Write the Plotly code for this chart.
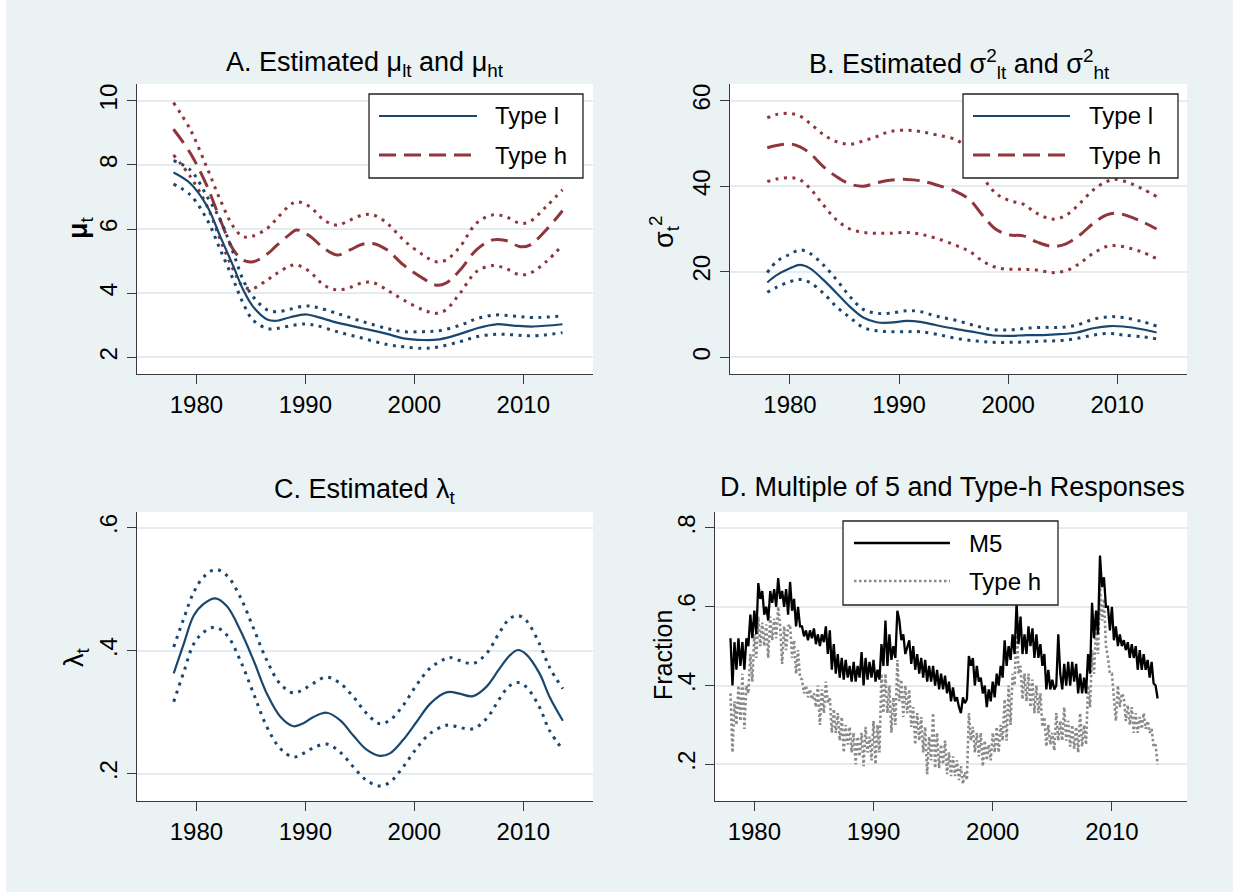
import plotly.graph_objects as go

# ---------------- data ----------------
# Panel A: estimated mu
yrs_a_l = [1977.9, 1979.45, 1981.0, 1982.2, 1983.4, 1984.3, 1985.2, 1986.5, 1987.4, 1988.6, 1990.0, 1991.0,
           1992.9, 1995.3, 1997.5, 1999.0, 2000.8, 2002.3, 2004.2, 2005.7, 2007.5, 2009.1, 2010.9, 2013.6]
mu_l = [7.76, 7.42, 6.70, 5.76, 4.83, 4.10, 3.58, 3.18, 3.14, 3.25, 3.34, 3.27,
        3.08, 2.90, 2.73, 2.59, 2.54, 2.56, 2.73, 2.90, 3.03, 2.99, 2.96, 3.03]
mu_l_hi = [8.13, 7.84, 7.00, 6.28, 5.24, 4.41, 3.89, 3.48, 3.42, 3.50, 3.60, 3.56,
           3.37, 3.11, 2.90, 2.80, 2.80, 2.83, 3.00, 3.20, 3.32, 3.29, 3.24, 3.29]
mu_l_lo = [7.40, 7.06, 6.28, 5.35, 4.41, 3.68, 3.16, 2.90, 2.90, 2.98, 3.04, 2.99,
           2.80, 2.59, 2.40, 2.33, 2.28, 2.33, 2.49, 2.64, 2.72, 2.70, 2.67, 2.77]
yrs_a_h = [1977.9, 1979.45, 1981.0, 1982.2, 1983.4, 1984.3, 1985.2, 1986.5, 1987.4, 1988.6, 1989.2, 1990.4,
           1991.7, 1992.9, 1994.1, 1995.3, 1996.2, 1997.5, 1999.0, 2000.8, 2002.0, 2002.9, 2004.2, 2005.7,
           2007.2, 2008.4, 2009.7, 2010.6, 2012.1, 2013.6]
mu_h = [9.11, 8.36, 7.32, 6.28, 5.35, 5.03, 4.98, 5.22, 5.50, 5.84, 5.97, 5.78,
        5.40, 5.19, 5.35, 5.53, 5.55, 5.35, 4.88, 4.46, 4.25, 4.31, 4.72, 5.35,
        5.66, 5.64, 5.45, 5.50, 5.97, 6.57]
mu_h_hi = [9.94, 9.09, 7.89, 6.90, 6.07, 5.76, 5.78, 6.02, 6.33, 6.75, 6.85, 6.70,
           6.28, 6.12, 6.28, 6.44, 6.44, 6.18, 5.66, 5.19, 4.98, 5.03, 5.45, 6.18,
           6.44, 6.38, 6.18, 6.23, 6.70, 7.22]
mu_h_lo = [8.31, 7.63, 6.70, 5.66, 4.72, 4.20, 4.15, 4.41, 4.62, 4.85, 4.88, 4.67,
           4.25, 4.10, 4.18, 4.33, 4.33, 4.10, 3.79, 3.48, 3.37, 3.48, 4.00, 4.67,
           4.86, 4.77, 4.57, 4.62, 4.98, 5.50]

# Panel B: estimated sigma^2
yrs_b_l = [1977.92, 1978.78, 1980.0, 1980.92, 1981.83, 1983.06, 1984.28, 1985.5, 1986.72, 1987.94, 1989.17,
           1990.69, 1991.92, 1993.44, 1995.28, 1997.11, 1998.64, 2000.17, 2001.69, 2003.22, 2004.75, 2006.28,
           2007.8, 2009.33, 2010.55, 2012.39, 2013.61]
sig_l = [17.5, 19.2, 20.8, 21.6, 20.8, 18.1, 15.0, 11.8, 9.3, 8.2, 8.1, 8.5, 8.3, 7.5, 6.6, 5.8, 5.1, 5.0,
         5.2, 5.2, 5.4, 5.8, 6.8, 7.3, 7.2, 6.5, 5.8]
sig_l_hi = [19.8, 22.4, 24.1, 25.1, 24.3, 21.6, 18.1, 14.2, 11.2, 10.3, 10.3, 10.9, 10.7, 9.6, 8.6, 7.3, 6.5,
            6.4, 6.8, 7.0, 7.0, 7.5, 8.9, 9.5, 9.3, 8.3, 7.3]
sig_l_lo = [15.2, 16.4, 17.7, 18.2, 17.5, 15.0, 11.8, 9.3, 7.0, 6.2, 6.0, 6.0, 6.0, 5.4, 4.4, 3.8, 3.5, 3.5,
            3.6, 3.8, 3.9, 4.4, 5.2, 5.6, 5.2, 4.8, 4.3]
yrs_b_h = [1977.92, 1978.78, 1980.0, 1980.92, 1981.83, 1983.06, 1984.28, 1985.5, 1986.72, 1987.94, 1989.17,
           1990.69, 1991.92, 1993.44, 1995.28, 1996.5, 1997.72, 1998.94, 2000.17, 2001.39, 2002.61, 2004.14,
           2005.36, 2006.58, 2007.8, 2009.03, 2009.94, 2011.16, 2012.39, 2013.61]
sig_h = [49.0, 49.5, 49.9, 49.2, 47.7, 44.6, 42.2, 40.5, 40.0, 40.8, 41.4, 41.6, 41.3, 40.3, 38.7, 36.8,
         33.0, 29.8, 28.6, 28.4, 27.0, 25.9, 26.6, 28.6, 31.3, 33.3, 33.7, 32.9, 31.6, 30.0]
sig_h_hi = [56.0, 56.8, 57.0, 56.4, 54.7, 52.1, 50.4, 49.8, 50.6, 51.6, 52.8, 53.1, 52.8, 52.0, 50.8, 48.1,
            42.0, 38.2, 36.6, 35.8, 33.7, 32.3, 33.3, 36.0, 39.1, 41.1, 41.6, 40.7, 39.3, 37.6]
sig_h_lo = [41.1, 41.7, 42.0, 41.5, 39.5, 35.6, 32.1, 30.0, 29.2, 29.0, 29.0, 29.2, 28.8, 27.8, 26.1, 24.7,
            22.4, 21.0, 20.6, 20.6, 20.4, 19.8, 20.3, 22.0, 24.3, 25.9, 26.1, 25.5, 24.5, 23.1]

# Panel C: estimated lambda
yrs_c = [1977.92, 1978.84, 1979.76, 1980.67, 1981.74, 1982.81, 1984.03, 1985.25, 1986.47, 1987.69, 1988.91,
         1989.83, 1990.74, 1991.96, 1993.18, 1994.4, 1995.62, 1996.84, 1997.76, 1998.98, 2000.2, 2001.42,
         2002.64, 2003.25, 2004.17, 2005.39, 2006.61, 2007.83, 2008.75, 2009.51, 2010.27, 2011.49, 2012.41,
         2013.63]
lam = [0.363, 0.411, 0.457, 0.476, 0.485, 0.472, 0.433, 0.384, 0.330, 0.293, 0.277, 0.282, 0.292, 0.299,
       0.287, 0.262, 0.239, 0.229, 0.233, 0.255, 0.284, 0.313, 0.330, 0.333, 0.330, 0.326, 0.341, 0.371,
       0.392, 0.401, 0.394, 0.363, 0.325, 0.286]
lam_hi = [0.406, 0.452, 0.495, 0.520, 0.532, 0.522, 0.487, 0.436, 0.384, 0.346, 0.331, 0.337, 0.347, 0.357,
          0.347, 0.325, 0.298, 0.281, 0.287, 0.311, 0.344, 0.371, 0.385, 0.389, 0.384, 0.379, 0.395, 0.430,
          0.452, 0.457, 0.449, 0.411, 0.373, 0.338]
lam_lo = [0.317, 0.365, 0.411, 0.430, 0.438, 0.425, 0.384, 0.330, 0.276, 0.241, 0.227, 0.233, 0.242, 0.248,
          0.235, 0.211, 0.189, 0.180, 0.186, 0.211, 0.241, 0.265, 0.277, 0.279, 0.275, 0.273, 0.289, 0.322,
          0.343, 0.348, 0.341, 0.308, 0.270, 0.239]

# Panel D: fraction of multiple-of-5 and type-h responses (six readings per year, 1978-2013)
d_start_year = 1978
d_per_year = 6
m5 = [
    0.52, 0.40, 0.51, 0.44, 0.52, 0.45,   # 1978
    0.51, 0.44, 0.52, 0.50, 0.58, 0.52,   # 1979
    0.59, 0.53, 0.66, 0.62, 0.64, 0.58,   # 1980
    0.60, 0.565, 0.64, 0.61, 0.645, 0.60, # 1981
    0.673, 0.62, 0.64, 0.60, 0.645, 0.58, # 1982
    0.663, 0.59, 0.62, 0.55, 0.60, 0.55,  # 1983
    0.55, 0.525, 0.54, 0.515, 0.54, 0.52, # 1984
    0.545, 0.505, 0.53, 0.50, 0.53, 0.51, # 1985
    0.55, 0.48, 0.54, 0.44, 0.505, 0.43,  # 1986
    0.48, 0.42, 0.47, 0.415, 0.465, 0.42, # 1987
    0.45, 0.41, 0.46, 0.41, 0.45, 0.42,   # 1988
    0.485, 0.40, 0.47, 0.415, 0.46, 0.42, # 1989
    0.465, 0.41, 0.44, 0.415, 0.505, 0.45,# 1990
    0.565, 0.45, 0.53, 0.465, 0.50, 0.47, # 1991
    0.59, 0.565, 0.515, 0.53, 0.48, 0.50, # 1992
    0.515, 0.455, 0.50, 0.44, 0.48, 0.43, # 1993
    0.47, 0.42, 0.465, 0.41, 0.45, 0.41,  # 1994
    0.45, 0.40, 0.44, 0.39, 0.43, 0.39,   # 1995
    0.425, 0.38, 0.41, 0.36, 0.395, 0.36, # 1996
    0.37, 0.345, 0.33, 0.37, 0.355, 0.365,# 1997
    0.475, 0.45, 0.47, 0.40, 0.45, 0.41,  # 1998
    0.42, 0.38, 0.40, 0.345, 0.39, 0.36,  # 1999
    0.41, 0.37, 0.43, 0.40, 0.45, 0.42,   # 2000
    0.515, 0.45, 0.50, 0.465, 0.53, 0.48, # 2001
    0.61, 0.505, 0.575, 0.48, 0.53, 0.48, # 2002
    0.55, 0.50, 0.545, 0.47, 0.53, 0.47,  # 2003
    0.505, 0.45, 0.48, 0.39, 0.44, 0.39,  # 2004
    0.415, 0.39, 0.40, 0.53, 0.43, 0.39,  # 2005
    0.455, 0.40, 0.46, 0.40, 0.46, 0.41,  # 2006
    0.455, 0.38, 0.43, 0.38, 0.42, 0.38,  # 2007
    0.48, 0.43, 0.61, 0.52, 0.59, 0.53,   # 2008
    0.73, 0.65, 0.675, 0.60, 0.60, 0.54,  # 2009
    0.60, 0.515, 0.55, 0.50, 0.53, 0.50,  # 2010
    0.515, 0.49, 0.51, 0.47, 0.505, 0.47, # 2011
    0.50, 0.44, 0.49, 0.44, 0.48, 0.44,   # 2012
    0.465, 0.42, 0.46, 0.405, 0.40, 0.367,# 2013
]
type_h = [
    0.38, 0.23, 0.36, 0.30, 0.40, 0.31,   # 1978
    0.43, 0.29, 0.40, 0.38, 0.48, 0.41,   # 1979
    0.53, 0.47, 0.575, 0.50, 0.56, 0.50,  # 1980
    0.555, 0.47, 0.575, 0.515, 0.57, 0.52,# 1981
    0.60, 0.55, 0.455, 0.55, 0.49, 0.55,  # 1982
    0.555, 0.47, 0.515, 0.43, 0.49, 0.42, # 1983
    0.415, 0.38, 0.40, 0.37, 0.39, 0.365, # 1984
    0.38, 0.345, 0.40, 0.30, 0.39, 0.33,  # 1985
    0.41, 0.355, 0.37, 0.28, 0.34, 0.28,  # 1986
    0.33, 0.26, 0.32, 0.23, 0.30, 0.25,   # 1987
    0.295, 0.23, 0.28, 0.20, 0.27, 0.22,  # 1988
    0.28, 0.195, 0.295, 0.23, 0.27, 0.21, # 1989
    0.31, 0.20, 0.30, 0.23, 0.43, 0.33,   # 1990
    0.43, 0.33, 0.40, 0.28, 0.37, 0.30,   # 1991
    0.465, 0.36, 0.415, 0.32, 0.40, 0.33, # 1992
    0.39, 0.295, 0.345, 0.25, 0.33, 0.26, # 1993
    0.32, 0.23, 0.295, 0.175, 0.27, 0.21, # 1994
    0.33, 0.19, 0.28, 0.19, 0.25, 0.20,   # 1995
    0.26, 0.175, 0.23, 0.17, 0.22, 0.17,  # 1996
    0.21, 0.16, 0.195, 0.15, 0.18, 0.16,  # 1997
    0.33, 0.26, 0.295, 0.23, 0.28, 0.22,  # 1998
    0.28, 0.195, 0.26, 0.21, 0.25, 0.21,  # 1999
    0.28, 0.23, 0.295, 0.23, 0.30, 0.26,  # 2000
    0.365, 0.26, 0.40, 0.30, 0.43, 0.40,  # 2001
    0.56, 0.43, 0.45, 0.365, 0.43, 0.36,  # 2002
    0.43, 0.345, 0.415, 0.33, 0.40, 0.33, # 2003
    0.38, 0.295, 0.32, 0.245, 0.30, 0.25, # 2004
    0.28, 0.235, 0.33, 0.26, 0.31, 0.26,  # 2005
    0.345, 0.26, 0.31, 0.245, 0.30, 0.24, # 2006
    0.295, 0.23, 0.33, 0.245, 0.30, 0.25, # 2007
    0.40, 0.345, 0.49, 0.43, 0.55, 0.48,  # 2008
    0.65, 0.565, 0.62, 0.50, 0.47, 0.43,  # 2009
    0.43, 0.365, 0.31, 0.40, 0.345, 0.38, # 2010
    0.37, 0.31, 0.35, 0.30, 0.345, 0.28,  # 2011
    0.33, 0.28, 0.32, 0.29, 0.33, 0.29,   # 2012
    0.31, 0.28, 0.29, 0.245, 0.25, 0.20,  # 2013
]
yrs_d = [d_start_year + i / d_per_year for i in range(len(m5))]

# tick labels
ticks_a = [2, 4, 6, 8, 10]
ticks_b = [0, 20, 40, 60]
ticks_c = [0.2, 0.4, 0.6]
ticks_c_text = [".2", ".4", ".6"]
ticks_d = [0.2, 0.4, 0.6, 0.8]
ticks_d_text = [".2", ".4", ".6", ".8"]
ticks_x = [1980, 1990, 2000, 2010]

# ---------------- style / layout ----------------
W, H = 1233, 892
def px(x): return x / W
def py(y): return 1 - y / H

NAVY = "#1A476F"
MAROON = "#90353B"
GRAY = "#8A8A8A"
BG = "#EAF2F3"
GRID = "#E3ECEF"
AX = "#3A3A3A"
FONT = "Liberation Sans, Arial, sans-serif"
TICKF = 24
DOT = "3px,5.5px"
DASH = "17px,8px"
GDOT = "2.5px,2.5px"

fig = go.Figure()

def add(xa, ya, x, y, color, width, dash, shape="spline"):
    fig.add_trace(go.Scatter(
        x=x, y=y, xaxis=xa, yaxis=ya, mode="lines", showlegend=False, hoverinfo="skip",
        line=dict(color=color, width=width, dash=dash, shape=shape, smoothing=1.0)))

# Panel A
add("x", "y", yrs_a_h, mu_h_hi, MAROON, 3, DOT)
add("x", "y", yrs_a_h, mu_h_lo, MAROON, 3, DOT)
add("x", "y", yrs_a_h, mu_h, MAROON, 3, DASH)
add("x", "y", yrs_a_l, mu_l_hi, NAVY, 3, DOT)
add("x", "y", yrs_a_l, mu_l_lo, NAVY, 3, DOT)
add("x", "y", yrs_a_l, mu_l, NAVY, 2.2, "solid")
# Panel B
add("x2", "y2", yrs_b_h, sig_h_hi, MAROON, 3, DOT)
add("x2", "y2", yrs_b_h, sig_h_lo, MAROON, 3, DOT)
add("x2", "y2", yrs_b_h, sig_h, MAROON, 3, DASH)
add("x2", "y2", yrs_b_l, sig_l_hi, NAVY, 3, DOT)
add("x2", "y2", yrs_b_l, sig_l_lo, NAVY, 3, DOT)
add("x2", "y2", yrs_b_l, sig_l, NAVY, 2.2, "solid")
# Panel C
add("x3", "y3", yrs_c, lam_hi, NAVY, 3, DOT)
add("x3", "y3", yrs_c, lam_lo, NAVY, 3, DOT)
add("x3", "y3", yrs_c, lam, NAVY, 2.2, "solid")
# Panel D
add("x4", "y4", yrs_d, type_h, GRAY, 2.6, GDOT, "linear")
add("x4", "y4", yrs_d, m5, "#000000", 2.3, "solid", "linear")

def xaxis(dom, rng, anchor):
    return dict(domain=dom, range=rng, anchor=anchor, showline=True, linecolor=AX, linewidth=1.3,
                ticks="outside", ticklen=9, tickwidth=1.3, tickcolor=AX, tickvals=ticks_x,
                showgrid=False, zeroline=False, tickfont=dict(size=TICKF, color="#000", family=FONT))

def yaxis(dom, rng, anchor, vals, text=None):
    d = dict(domain=dom, range=rng, anchor=anchor, showline=True, linecolor=AX, linewidth=1.3,
             ticks="outside", ticklen=9, tickwidth=1.3, tickcolor=AX, tickvals=vals, tickangle=-90,
             showgrid=True, gridcolor=GRID, gridwidth=2, zeroline=False,
             tickfont=dict(size=TICKF, color="#000", family=FONT))
    if text:
        d["ticktext"] = text
    return d

xA = [px(137), px(593)]
xB = [px(730), px(1187)]
xD = [px(715), px(1187)]
yTop = [py(374), py(84)]
yBot = [py(801), py(512)]

fig.update_layout(
    width=W, height=H, margin=dict(l=0, r=0, t=0, b=0),
    paper_bgcolor=BG, plot_bgcolor="white", font=dict(family=FONT, color="#000"),
    xaxis=xaxis(xA, [1974.55, 2016.4], "y"),
    yaxis=yaxis(yTop, [1.48, 10.52], "x", ticks_a),
    xaxis2=xaxis(xB, [1974.5, 2016.4], "y2"),
    yaxis2=yaxis(yTop, [-3.9, 63.9], "x2", ticks_b),
    xaxis3=xaxis(xA, [1974.55, 2016.4], "y3"),
    yaxis3=yaxis(yBot, [0.1555, 0.6254], "x3", ticks_c, ticks_c_text),
    xaxis4=xaxis(xD, [1976.7, 2016.3], "y4"),
    yaxis4=yaxis(yBot, [0.1068, 0.8406], "x4", ticks_d, ticks_d_text),
)

ann = []
shapes = [dict(type="rect", xref="paper", yref="paper", x0=0, x1=px(6), y0=0, y1=1,
               fillcolor="white", line=dict(width=0), layer="below")]

def text(x, y, s, size, angle=0, xanchor="center"):
    ann.append(dict(x=px(x), y=py(y), xref="paper", yref="paper", text=s, showarrow=False,
                    font=dict(size=size, family=FONT, color="#000"), textangle=angle,
                    xanchor=xanchor, yanchor="middle"))

# panel titles
text(365, 64, "A. Estimated μ<sub>lt</sub> and μ<sub>ht</sub>", 27)
text(959, 64, "B. Estimated σ<sup>2</sup><sub>lt</sub> and σ<sup>2</sup><sub>ht</sub>", 27)
text(365, 491, "C. Estimated λ<sub>t</sub>", 27)
text(952, 487, "D. Multiple of 5 and Type-h Responses", 27)

# axis titles
text(80, 228, "<b>μ</b><sub>t</sub>", 27, -90)
text(664, 232, "σ<sub>t</sub><sup>2</sup>", 27, -90)
text(76, 657, "λ<sub>t</sub>", 27, -90)
text(663, 655, "Fraction", 25, -90)

# legends (Stata-style boxed keys)
def legend(x0, y0, x1, y1, lx0, lx1, tx, items):
    shapes.append(dict(type="rect", xref="paper", yref="paper", x0=px(x0), x1=px(x1), y0=py(y1), y1=py(y0),
                       fillcolor="white", line=dict(color="#222", width=1.3), layer="above"))
    for label, color, width, dash, ly in items:
        shapes.append(dict(type="line", xref="paper", yref="paper", x0=px(lx0), x1=px(lx1), y0=py(ly), y1=py(ly),
                           line=dict(color=color, width=width, dash=dash), layer="above"))
        text(tx, ly, label, 24, 0, "left")

legend(369, 94, 583, 178, 379, 477, 493,
       [("Type l", NAVY, 2.2, "solid", 116), ("Type h", MAROON, 3, DASH, 155)])
legend(963, 94, 1178, 178, 973, 1070, 1087,
       [("Type l", NAVY, 2.2, "solid", 116), ("Type h", MAROON, 3, DASH, 155)])
legend(843, 521, 1058, 605, 854, 950, 967,
       [("M5", "#000000", 2.3, "solid", 543), ("Type h", GRAY, 2.6, GDOT, 581)])

fig.update_layout(annotations=ann, shapes=shapes)
fig.write_html("out.html")
